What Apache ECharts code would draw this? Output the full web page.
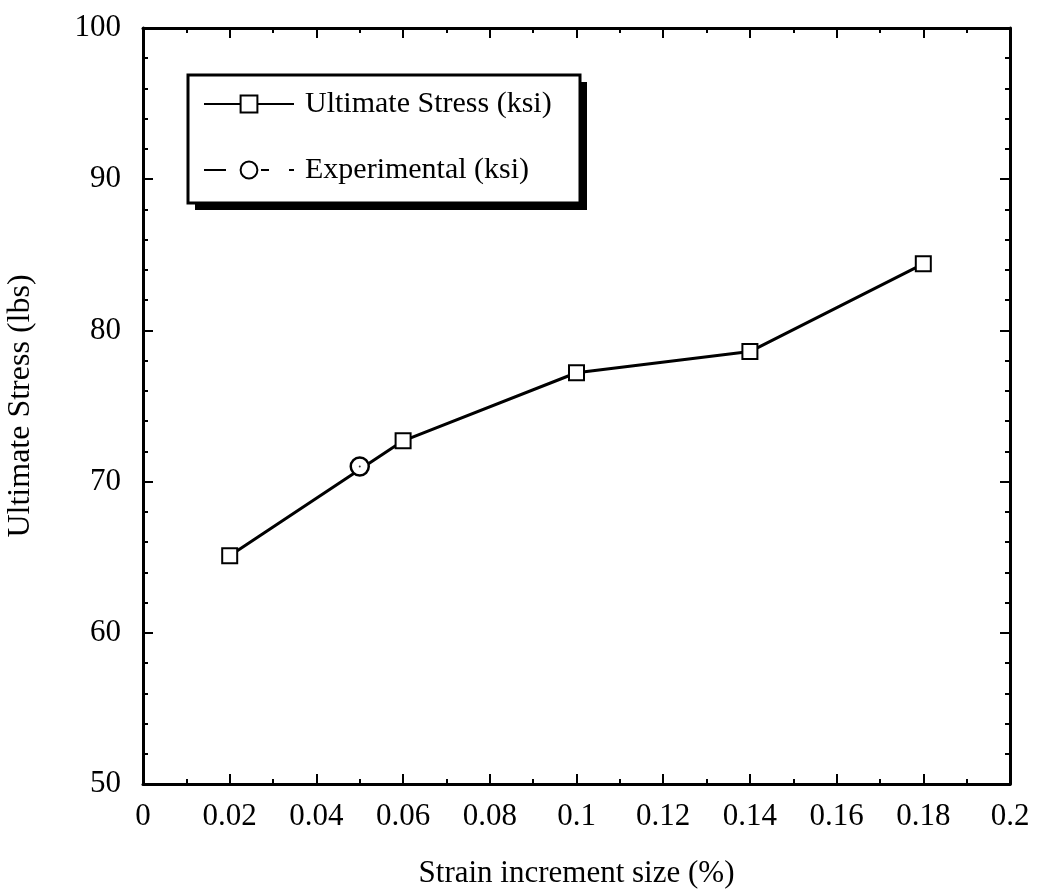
<!DOCTYPE html>
<html>
<head>
<meta charset="utf-8">
<script src="https://cdn.jsdelivr.net/npm/echarts@6/dist/echarts.min.js"></script>
<style>html,body{margin:0;padding:0;background:#fff;}#c{width:1043px;height:893px;}</style>
</head>
<body>
<div id="c"></div>
<script>
const strainX = [0.02, 0.06, 0.1, 0.14, 0.18];
const ultimateStress = [65.1, 72.7, 77.2, 78.6, 84.4];
const experimentalX = [0.05];
const experimentalStress = [71.0];
const seriesNames = ['Ultimate Stress (ksi)', 'Experimental (ksi)'];
const xTitle = 'Strain increment size (%)';
const yTitle = 'Ultimate Stress (lbs)';

const FONT = '"Liberation Serif", "Times New Roman", serif';
const chart = echarts.init(document.getElementById('c'), null, {renderer: 'canvas'});

const axisCommon = {
  axisLine: {show: true, onZero: false, lineStyle: {color: '#000', width: 3}},
  axisTick: {show: true, inside: true, length: 10, lineStyle: {color: '#000', width: 2}},
  minorTick: {show: true, length: 5, lineStyle: {color: '#000', width: 2}},
  splitLine: {show: false},
  minorSplitLine: {show: false}
};

chart.setOption({
  animation: false,
  backgroundColor: '#fff',
  grid: {left: 143, right: 33, top: 28, bottom: 109, containLabel: false, outerBoundsMode: 'none'},
  graphic: [
    {type: 'rect', z: 1, shape: {x: 195, y: 82, width: 392, height: 128}, style: {fill: '#000'}},
    {type: 'rect', z: 2, shape: {x: 188, y: 75, width: 392, height: 128}, style: {fill: '#fff', stroke: '#000', lineWidth: 3}}
  ],
  legend: {
    orient: 'vertical',
    left: 203, top: 89,
    padding: 0,
    itemGap: 36,
    itemWidth: 90,
    itemHeight: 21,
    z: 10,
    textStyle: {fontFamily: FONT, fontSize: 30, color: '#000', padding: [0, 0, 0, 6]},
    data: seriesNames
  },
  xAxis: [
    Object.assign({}, axisCommon, {
      type: 'value', min: 0, max: 0.2, interval: 0.02, position: 'bottom',
      minorTick: Object.assign({}, axisCommon.minorTick, {splitNumber: 2}),
      name: xTitle, nameLocation: 'middle', nameGap: 74,
      nameTextStyle: {fontFamily: FONT, fontSize: 31, color: '#000'},
      axisLabel: {fontFamily: FONT, fontSize: 31, color: '#000', margin: 17,
        formatter: v => String(Math.round(v * 100) / 100)}
    }),
    Object.assign({}, axisCommon, {
      type: 'value', min: 0, max: 0.2, interval: 0.02, position: 'top',
      minorTick: Object.assign({}, axisCommon.minorTick, {splitNumber: 2}),
      axisLabel: {show: false}
    })
  ],
  yAxis: [
    Object.assign({}, axisCommon, {
      type: 'value', min: 50, max: 100, interval: 10, position: 'left',
      minorTick: Object.assign({}, axisCommon.minorTick, {splitNumber: 5}),
      name: yTitle, nameLocation: 'middle', nameGap: 106, nameRotate: 90,
      nameTextStyle: {fontFamily: FONT, fontSize: 32, color: '#000'},
      axisLabel: {fontFamily: FONT, fontSize: 31, color: '#000', margin: 22, padding: [0, 0, 12, 0]}
    }),
    Object.assign({}, axisCommon, {
      type: 'value', min: 50, max: 100, interval: 10, position: 'right',
      minorTick: Object.assign({}, axisCommon.minorTick, {splitNumber: 5}),
      axisLabel: {show: false}
    })
  ],
  series: [
    {
      name: seriesNames[0], type: 'line',
      data: strainX.map((x, i) => [x, ultimateStress[i]]),
      symbol: 'rect', symbolSize: 15,
      lineStyle: {color: '#000', width: 3},
      itemStyle: {color: '#fff', borderColor: '#000', borderWidth: 2},
      z: 3
    },
    {
      name: seriesNames[1], type: 'line',
      data: experimentalX.map((x, i) => [x, experimentalStress[i]]),
      symbol: 'circle', symbolSize: 18,
      lineStyle: {color: '#000', width: 2, type: [22, 35, 8, 20]},
      itemStyle: {color: '#fff', borderColor: '#000', borderWidth: 2.5},
      z: 4
    },
    {
      name: 'dot', type: 'scatter',
      data: experimentalX.map((x, i) => [x, experimentalStress[i]]),
      symbol: 'circle', symbolSize: 2,
      itemStyle: {color: '#000'},
      z: 5, silent: true
    }
  ]
});
</script>
</body>
</html>
